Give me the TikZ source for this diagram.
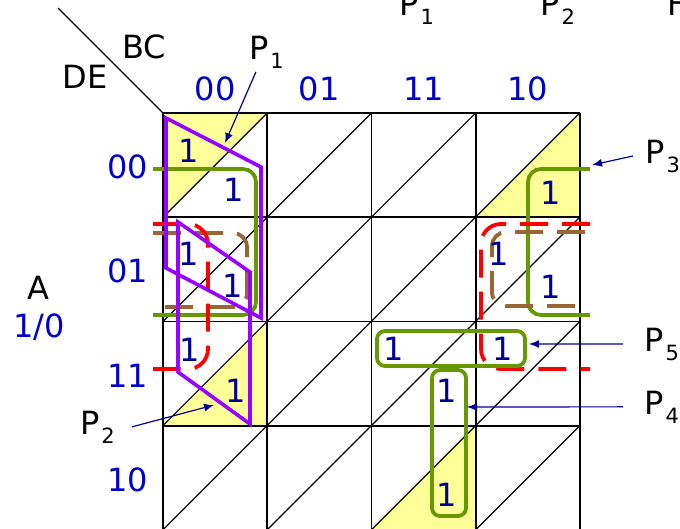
\documentclass[tikz,border=0pt]{standalone}
\usepackage{fontspec}
\setmainfont{DejaVu Sans}
\usetikzlibrary{arrows.meta}

\definecolor{lblblue}{RGB}{0,0,204}
\definecolor{onenavy}{RGB}{0,0,153}
\definecolor{loopgreen}{RGB}{102,153,0}
\definecolor{looppurple}{RGB}{153,0,255}
\definecolor{loopbrown}{RGB}{153,102,51}
\definecolor{cellyellow}{RGB}{255,255,153}

\newcommand*{\gx}{163}
\newcommand*{\gy}{113}
\newcommand*{\cw}{104.2}
\newcommand*{\Plbl}[1]{P\kern2pt\raisebox{-9pt}{\fontsize{21}{24}\selectfont #1}}

\begin{document}
\begin{tikzpicture}
[
	x=1pt,
	y=-1pt,
	txt/.style={inner sep=0pt,font=\fontsize{32}{38}\selectfont},
	lbl/.style={txt,text=lblblue},
	one/.style={txt,text=onenavy},
	plabel/.style={txt,anchor=base west},
	gridline/.style={line width=1.8pt},
	diag/.style={line width=1.2pt},
	ptr/.style={-{Latex[length=10pt,width=8pt]},onenavy,line width=1.2pt},
	grp/.style={line width=3.8pt,rounded corners=#1},
	grp/.default=13pt,
	dashgrp/.style={grp=#1,dash pattern=on 28pt off 14pt},
	pgrp/.style={line width=3.6pt,looppurple}
]
	\useasboundingbox (0,0) rectangle (680,528);

	% shaded halves
	\fill[cellyellow] (\gx,\gy) -- ++(\cw,0) -- ++(-\cw,\cw) -- cycle;
	\foreach \c/\r in {3/0,0/2,2/3} {
		\fill[cellyellow] (\gx+\c*\cw,\gy+\r*\cw+\cw) -- ++(\cw,-\cw) -- ++(0,\cw) -- cycle;
	}

	% grid
	\foreach \i in {0,...,4} {
		\draw[gridline] (\gx+\i*\cw,\gy) -- (\gx+\i*\cw,\gy+4.2*\cw);
		\draw[gridline] (\gx,\gy+\i*\cw) -- (\gx+4*\cw,\gy+\i*\cw);
	}
	\foreach \i in {0,...,3} {
		\foreach \j in {1,...,4} {
			\draw[diag] (\gx+\i*\cw,\gy+\j*\cw) -- ++(\cw,-\cw);
		}
	}
	\draw[diag] (58,8) -- (\gx,\gy);

	% corner and variable labels
	\node[txt] (bc) at (144,47) {BC};
	\node[txt] (de) at (85,77) {DE};
	\node[txt] (avar) at (38,288) {A};
	\node[lbl] (aval) at (39,327) {1/0};
	\foreach \lb [count=\i from 0] in {00,01,11,10} {
		\node[lbl] (col\lb) at (\gx+\i*\cw+\cw/2,89) {\lb};
		\node[lbl] (row\lb) at (128,\gy+\i*\cw+\cw/2+2) {\lb};
	}

	% groups
	\draw[grp,loopgreen] (153,169) -- (256,169) -- (256,315) -- (153,315);
	\draw[grp,loopgreen] (590,169) -- (528,169) -- (528,315) -- (590,315);
	\draw[dashgrp=14pt,loopbrown] (153,233) -- (247,233) -- (247,307) -- (153,307);
	\draw[dashgrp=14pt,loopbrown] (585,232) -- (492,232) -- (492,306) -- (585,306);
	\draw[dashgrp=20pt,red] (153,224) -- (208,224) -- (208,369) -- (153,369);
	\draw[dashgrp=20pt,red] (590,224) -- (481,224) -- (481,369) -- (590,369);
	\draw[grp=8pt,loopgreen] (377,331) rectangle (525,366);
	\draw[grp=8pt,loopgreen] (432,370) rectangle (466,516);
	\draw[pgrp] (166,118) -- (261,167) -- (261,318) -- (166,268) -- cycle;
	\draw[pgrp] (178,222) -- (250,272) -- (250,424) -- (178,372) -- cycle;

	% ones
	\foreach \nm/\px/\py in {r00c00u/189/151, r00c00l/234/190, r01c00u/189/254,
			r01c00l/233/286, r11c00u/190/350, r11c00l/236/391, r00c10l/551/193,
			r01c10u/499/254, r01c10l/551/287, r11c11u/394/349, r11c10u/503/349,
			r11c11l/447/391, r10c11l/447/495} {
		\node[one] (\nm) at (\px,\py) {1};
	}

	% group names
	\node[plabel] (p1lbl) at (249,59) {\Plbl{1}};
	\node[plabel] (p2lbl) at (80,434) {\Plbl{2}};
	\node[plabel] (p3lbl) at (645,163) {\Plbl{3}};
	\node[plabel] (p4lbl) at (644,414) {\Plbl{4}};
	\node[plabel] (p5lbl) at (644,351) {\Plbl{5}};
	\node[plabel] (hp1) at (399,15) {\Plbl{1}};
	\node[plabel] (hp2) at (540,15) {\Plbl{2}};
	\node[plabel] (hf) at (667,15) {F};

	\coordinate (p1tip) at (225,143);
	\coordinate (p2tip) at (214,405);
	\coordinate (p3tip) at (592,165);
	\coordinate (p4tip) at (467,407);
	\coordinate (p5tip) at (529,344);

	\draw[ptr,shorten <=4pt] ([xshift=-9pt]p1lbl.south) -- (p1tip);
	\draw[ptr] ([xshift=17pt]p2lbl.east) -- (p2tip);
	\draw[ptr] ([xshift=-12pt]p3lbl.west) -- (p3tip);
	\draw[ptr] ([xshift=-21pt]p4lbl.west) -- (p4tip);
	\draw[ptr] ([xshift=-21pt]p5lbl.west) -- (p5tip);

\end{tikzpicture}
\end{document}
